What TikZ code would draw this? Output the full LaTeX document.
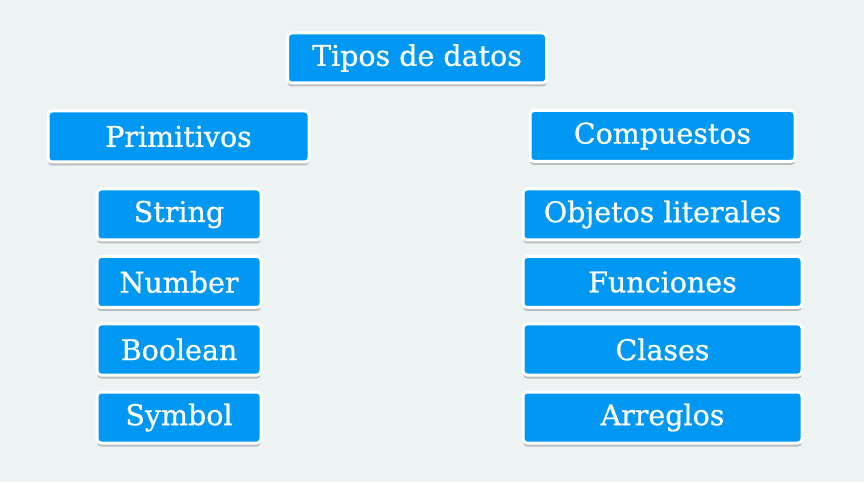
\documentclass[tikz,border=0pt]{standalone}
\usepackage{fontspec}
\setmainfont{DejaVu Serif}
\newfontfamily\cajafont[FakeBold=0.7]{DejaVu Serif}
\usetikzlibrary{shadows}
\definecolor{fondo}{RGB}{237,242,243}
\definecolor{azul}{RGB}{0,152,242}
\tikzset{
  caja/.style={fill=azul, draw=white, line width=3pt, rounded corners=4pt,
    text=white, font=\cajafont\fontsize{28.5}{32}\selectfont, inner sep=0pt,
    minimum height=51pt,
    drop shadow={shadow xshift=0pt, shadow yshift=-3.5pt, fill=black!35, opacity=0.7}},
  cajaprim/.style={caja, minimum width=164pt},
  cajacomp/.style={caja, minimum width=279pt}
}
\begin{document}
\begin{tikzpicture}[x=1pt,y=1pt]
  \fill[fondo] (0,0) rectangle (864,482);
  \useasboundingbox (0,0) rectangle (864,482);
  \node[caja, minimum width=259pt, minimum height=50pt] (tipos) at (417,424) {Tipos de datos};
  \node[caja, minimum width=261pt] (prim) at (178.5,345.5) {Primitivos};
  \node[caja, minimum width=265pt] (comp) at (662.5,346) {Compuestos};
  % primitivos
  \node[cajaprim] (string) at (179,267.5) {String};
  \node[cajaprim] (number) at (179,200) {Number};
  \node[cajaprim] (boolean) at (179,132.5) {Boolean};
  \node[cajaprim] (symbol) at (179,64.5) {Symbol};
  % compuestos
  \node[cajacomp] (objetos) at (662.5,267.5) {Objetos literales};
  \node[cajacomp] (funciones) at (662.5,200) {Funciones};
  \node[cajacomp] (clases) at (662.5,132.5) {Clases};
  \node[cajacomp] (arreglos) at (662.5,64.5) {Arreglos};
\end{tikzpicture}
\end{document}
